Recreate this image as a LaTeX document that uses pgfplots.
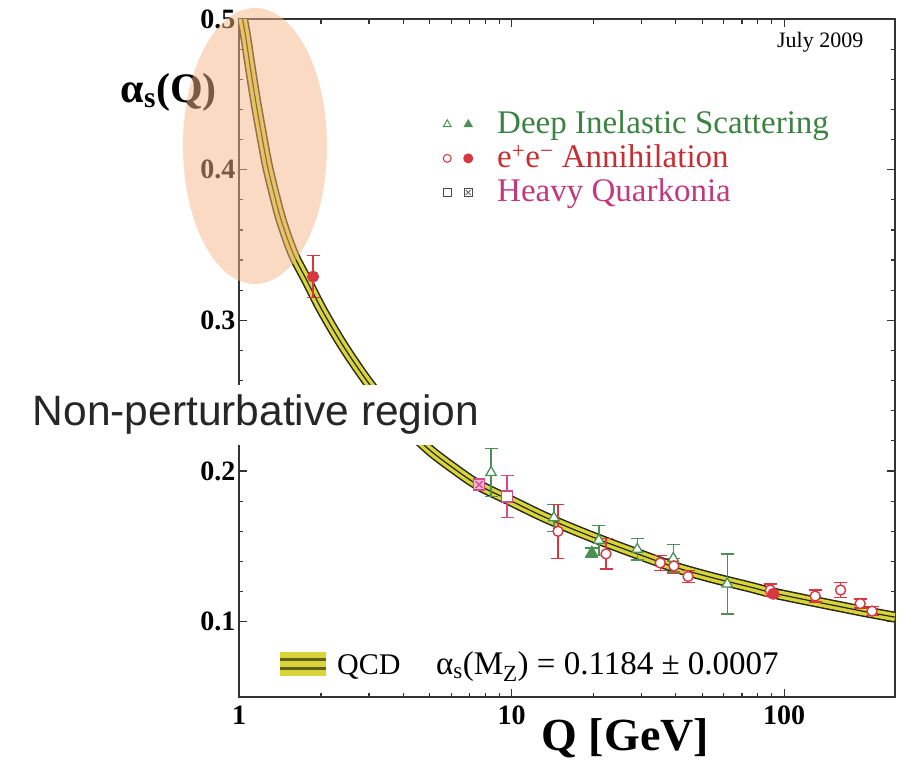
\documentclass[border=0pt]{standalone}
\usepackage{pgfplots}
\usepackage{pgfplotstable}
\pgfplotsset{compat=1.18}
\usepackage{fontspec}
\setmainfont{Liberation Serif}
\newfontfamily\sansfont{Liberation Sans}

\definecolor{disgreen}{RGB}{75,145,85}
\definecolor{distext}{RGB}{60,130,65}
\definecolor{eered}{RGB}{215,55,65}
\definecolor{eetext}{RGB}{200,45,50}
\definecolor{hqpink}{RGB}{210,75,140}
\definecolor{hqtext}{RGB}{195,55,125}
\definecolor{band}{RGB}{215,212,60}
\definecolor{bandedge}{RGB}{40,40,20}
\definecolor{peach}{RGB}{247,181,135}

% QCD running coupling, read off the band centre
\pgfplotstableread{
Q a
1.00 0.512
1.05 0.492
1.10 0.468
1.15 0.446
1.20 0.427
1.27 0.403
1.35 0.383
1.42 0.368
1.50 0.355
1.60 0.342
1.78 0.326
2.00 0.308
2.30 0.289
2.60 0.274
3.00 0.258
3.50 0.243
4.20 0.227
5.00 0.214
6.00 0.203
7.50 0.191
10.0 0.180
13.0 0.170
17.0 0.161
22.0 0.153
30.0 0.144
40.0 0.136
55.0 0.129
75.0 0.123
91.2 0.119
120 0.1145
160 0.110
200 0.1065
255 0.103
}\qcd

\pgfplotstableread{
Q a e
8.41 0.199 0.016
14.3 0.169 0.009
20.9 0.154 0.010
28.9 0.148 0.007
39.2 0.142 0.009
61.8 0.125 0.020
}\disopen

\pgfplotstableread{
Q a e
19.7 0.146 0.003
}\disfull

\pgfplotstableread{
Q a e
14.8 0.160 0.018
22.2 0.145 0.010
35.1 0.139 0.005
39.4 0.137 0.005
44.4 0.130 0.004
88.9 0.121 0.004
130 0.117 0.004
161 0.121 0.005
190 0.112 0.003
210 0.107 0.003
}\eeopen

\pgfplotstableread{
Q a e
1.87 0.329 0.014
91.2 0.1185 0.002
}\eefull

\pgfplotstableread{
Q a e
9.63 0.183 0.014
}\hqopen

\pgfplotstableread{
Q a e
7.6 0.191 0.003
}\hqcross

\begin{document}
\begin{tikzpicture}
\begin{axis}[
    at={(239pt,-697pt)}, anchor=south west,
    scale only axis, width=656pt, height=678pt,
    xmode=log, xmin=1, xmax=255, ymin=0.05, ymax=0.5,
    xtick={1,10,100}, xticklabels={1,10,100},
    ytick={0.1,0.2,0.3,0.4,0.5}, yticklabels={0.1,0.2,0.3,0.4,0.5},
    minor y tick num=4,
    /pgf/number format/assume math mode=true,
    tick label style={font=\bfseries\fontsize{28}{28}\selectfont},
    xticklabel style={yshift=-5pt},
    axis line style={line width=1.6pt, draw=black!80},
    tick style={line width=1.2pt, draw=black!80},
    major tick length=8pt, minor tick length=4.5pt,
    xlabel={Q [GeV]},
    xlabel style={font=\bfseries\fontsize{46}{46}\selectfont,
        at={(rel axis cs:0.589,-0.061)}, anchor=center},
    ylabel={α\textsubscript{s}(Q)},
    ylabel style={font=\bfseries\fontsize{42}{42}\selectfont, rotate=-90,
        at={(rel axis cs:-0.107,0.892)}, anchor=center},
    legend style={draw=none, fill=none, at={(rel axis cs:0.308,0.867)},
        anchor=north west, font=\fontsize{33}{33}\selectfont,
        row sep=0pt, inner sep=0pt,
        nodes={inner sep=2pt, text height=22pt, text depth=8pt}},
    legend cell align=left,
]
% band: dark edges, yellow fill, dark centre line
\addplot[forget plot, smooth, draw=bandedge, line width=11pt] table[x=Q, y=a]{\qcd};
\addplot[forget plot, smooth, draw=band, line width=8pt] table[x=Q, y=a]{\qcd};
\addplot[forget plot, smooth, draw=bandedge, line width=1.2pt] table[x=Q, y=a]{\qcd};

\pgfplotsset{errs/.style={error bars/.cd, y dir=both, y explicit,
    error bar style={line width=1.3pt},
    error mark options={rotate=90, mark size=6.5pt, line width=1.3pt}}}

\addplot[forget plot, only marks, color=disgreen, mark=triangle*, mark size=6pt,
    mark options={fill=white, line width=1.3pt}, errs]
    table[x=Q, y=a, y error=e]{\disopen};
\addplot[forget plot, only marks, color=disgreen, mark=triangle*, mark size=6pt,
    mark options={fill=disgreen, line width=1.3pt}, errs]
    table[x=Q, y=a, y error=e]{\disfull};
\addplot[forget plot, only marks, color=eered, mark=*, mark size=5pt,
    mark options={fill=white, line width=1.4pt}, errs]
    table[x=Q, y=a, y error=e]{\eeopen};
\addplot[forget plot, only marks, color=eered, mark=*, mark size=5.5pt,
    mark options={fill=eered, line width=1pt}, errs]
    table[x=Q, y=a, y error=e]{\eefull};
\addplot[forget plot, only marks, color=hqpink, mark=square*, mark size=5.5pt,
    mark options={fill=white, line width=1.4pt}, errs]
    table[x=Q, y=a, y error=e]{\hqopen};
\addplot[forget plot, only marks, color=hqpink, mark=square*, mark size=5.5pt,
    mark options={fill=hqpink!40, line width=1.4pt}]
    table[x=Q, y=a]{\hqcross};
\addplot[forget plot, only marks, color=hqpink, mark=x, mark size=5pt,
    mark options={line width=1.2pt}]
    table[x=Q, y=a]{\hqcross};

\addlegendimage{legend image code/.code={
    \path[draw=none, fill=none] (0pt,0pt) -- (54pt,0pt);
    \draw[disgreen, line width=1pt] plot[mark=triangle*, mark size=4.5pt,
        mark options={fill=white}] coordinates {(6pt,2pt)};
    \draw[disgreen, line width=1pt] plot[mark=triangle*, mark size=4.5pt,
        mark options={fill=disgreen}] coordinates {(27pt,2pt)};}}
\addlegendentry{\textcolor{distext}{Deep Inelastic Scattering}}
\addlegendimage{legend image code/.code={
    \path[draw=none, fill=none] (0pt,0pt) -- (54pt,0pt);
    \draw[eered, line width=1pt] plot[mark=*, mark size=4pt,
        mark options={fill=white}] coordinates {(6pt,2pt)};
    \draw[eered, line width=1pt] plot[mark=*, mark size=4.5pt,
        mark options={fill=eered}] coordinates {(27pt,2pt)};}}
\addlegendentry{\textcolor{eetext}{e\textsuperscript{+}e\textsuperscript{−} Annihilation}}
\addlegendimage{legend image code/.code={
    \path[draw=none, fill=none] (0pt,0pt) -- (54pt,0pt);
    \draw[black!70, line width=1pt] plot[mark=square*, mark size=4pt,
        mark options={fill=white}] coordinates {(6pt,2pt)};
    \draw[black!70, line width=1pt] plot[mark=square*, mark size=4pt,
        mark options={fill=white}] coordinates {(27pt,2pt)};
    \draw[black!70, line width=0.8pt] plot[mark=x, mark size=3.5pt] coordinates {(27pt,2pt)};}}
\addlegendentry{\textcolor{hqtext}{Heavy Quarkonia}}

\node[font=\fontsize{22}{22}\selectfont] at (rel axis cs:0.886,0.966) {July 2009};

% QCD band key
\fill[black!55!band] (rel axis cs:0.0625,0.031) rectangle (rel axis cs:0.1326,0.0664);
\fill[band] (rel axis cs:0.0625,0.031) rectangle (rel axis cs:0.1326,0.040);
\fill[band] (rel axis cs:0.0625,0.0445) rectangle (rel axis cs:0.1326,0.053);
\fill[band] (rel axis cs:0.0625,0.0575) rectangle (rel axis cs:0.1326,0.0664);
\node[anchor=base west, font=\fontsize{30}{30}\selectfont, inner sep=0pt]
    at (rel axis cs:0.1494,0.033) {QCD};
\node[anchor=base west, font=\fontsize{33}{33}\selectfont, inner sep=0pt]
    at (rel axis cs:0.300,0.033) {α\textsubscript{s}(M\textsubscript{Z}) = 0.1184 ± 0.0007};
\end{axis}

% highlighted low-Q region
\fill[peach, opacity=0.5] (255pt,-146pt) ellipse [x radius=72pt, y radius=138pt];
\node[fill=white, text=black!85, inner xsep=8pt, inner ysep=10pt,
    font=\sansfont\fontsize{42.5}{42.5}\selectfont] at (256pt,-415pt) {Non-perturbative region};

\pgfresetboundingbox
\path (0pt,0pt) rectangle (911pt,-764pt);
\end{tikzpicture}
\end{document}
